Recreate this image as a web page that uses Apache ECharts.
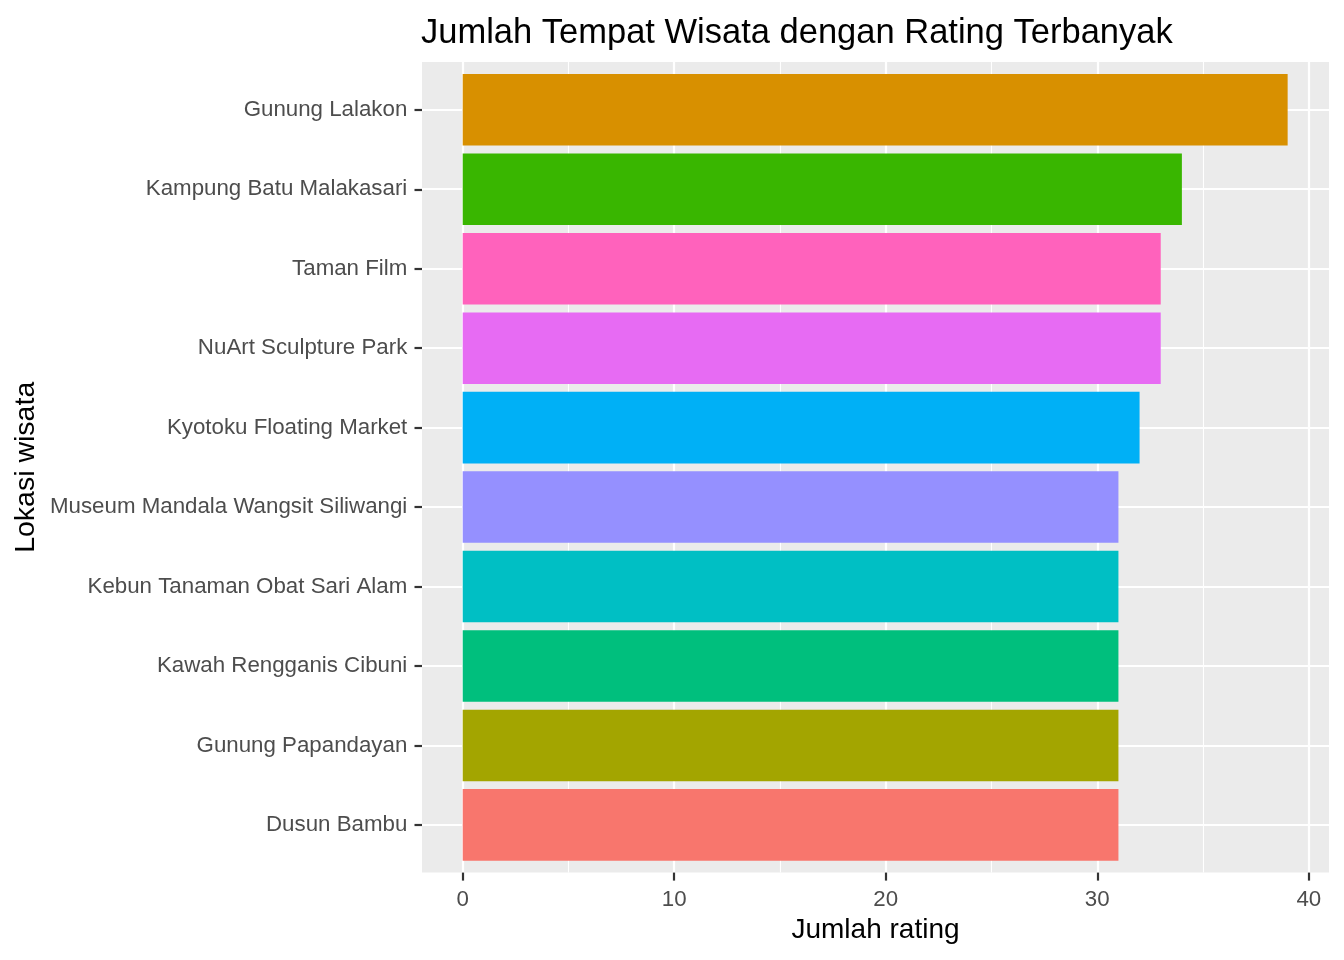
<!DOCTYPE html>
<html>
<head>
<meta charset="utf-8">
<title>Jumlah Tempat Wisata dengan Rating Terbanyak</title>
<script src="https://cdn.jsdelivr.net/npm/echarts@6/dist/echarts.min.js"></script>
<style>
    html, body { margin: 0; padding: 0; background: #ffffff; }
    #chart { width: 1344px; height: 960px; }
</style>
</head>
<body>
<div id="chart"></div>
<script>
// data (bottom to top, same order as the y axis)
const lokasi = [
    'Dusun Bambu',
    'Gunung Papandayan',
    'Kawah Rengganis Cibuni',
    'Kebun Tanaman Obat Sari Alam',
    'Museum Mandala Wangsit Siliwangi',
    'Kyotoku Floating Market',
    'NuArt Sculpture Park',
    'Taman Film',
    'Kampung Batu Malakasari',
    'Gunung Lalakon'
];
const jumlahRating = [31, 31, 31, 31, 31, 32, 33, 33, 34, 39];
const warna = ['#F8766D', '#A3A500', '#00BF7D', '#00BFC4', '#9590FF',
               '#00B0F6', '#E76BF3', '#FF62BC', '#39B600', '#D89000'];
const xMax = 40;
const xStep = 10;

const font = 'Liberation Sans, Arial, sans-serif';

document.addEventListener('DOMContentLoaded', function() {
    const chart = echarts.init(document.getElementById('chart'), null, { renderer: 'canvas' });

    const hidden = { show: false };

    const option = {
        animation: false,
        backgroundColor: '#ffffff',
        title: {
            text: 'Jumlah Tempat Wisata dengan Rating Terbanyak',
            left: 416,
            top: 11,
            textStyle: { fontFamily: font, fontSize: 34.5, fontWeight: 'normal', color: '#000000' }
        },
        grid: [
            // panel background
            { left: 422, right: 15, top: 62, bottom: 87.4, show: true, backgroundColor: '#EBEBEB', borderWidth: 0, outerBoundsMode: 'none' },
            // vertical grid lines + x ticks
            { left: 462.7, right: 35.2, top: 62, bottom: 87.4, outerBoundsMode: 'none' },
            // horizontal grid lines at category centres
            { left: 422, right: 15, top: 30.3, bottom: 55.6, outerBoundsMode: 'none' },
            // bars
            { left: 462.7, right: 35.2, top: 70.1, bottom: 95.4, outerBoundsMode: 'none' },
            // category labels + ticks on the panel edge
            { left: 422, right: 15, top: 70.1, bottom: 95.4, outerBoundsMode: 'none' }
        ],
        xAxis: [
            {
                gridIndex: 0, type: 'value', min: 0, max: 1,
                axisLine: hidden, axisTick: hidden, axisLabel: hidden, splitLine: hidden,
                name: 'Jumlah rating', nameLocation: 'middle', nameGap: 44,
                nameTextStyle: { fontFamily: font, fontSize: 28, color: '#000000' }
            },
            {
                gridIndex: 1, type: 'value', min: 0, max: xMax, interval: xStep,
                axisLine: hidden,
                axisTick: { show: true, length: 8, lineStyle: { color: '#333333', width: 2.2 } },
                axisLabel: { color: '#4D4D4D', fontFamily: font, fontSize: 22.3, margin: 16 },
                splitLine: { show: true, lineStyle: { color: '#ffffff', width: 2.2 } },
                minorTick: { show: false, splitNumber: 2 },
                minorSplitLine: { show: true, lineStyle: { color: '#ffffff', width: 1.1 } }
            },
            { gridIndex: 2, type: 'value', min: 0, max: 1, show: false },
            { gridIndex: 3, type: 'value', min: 0, max: xMax, show: false },
            { gridIndex: 4, type: 'value', min: 0, max: 1, show: false }
        ],
        yAxis: [
            {
                gridIndex: 0, type: 'value', min: 0, max: 1,
                axisLine: hidden, axisTick: hidden, axisLabel: hidden, splitLine: hidden,
                name: 'Lokasi wisata', nameLocation: 'middle', nameRotate: 90, nameGap: 381,
                nameTextStyle: { fontFamily: font, fontSize: 28.5, color: '#000000' }
            },
            { gridIndex: 1, type: 'value', min: 0, max: 1, show: false },
            {
                gridIndex: 2, type: 'value', min: 0, max: lokasi.length + 1, interval: 1,
                axisLine: hidden, axisTick: hidden, axisLabel: hidden,
                splitLine: { show: true, showMinLine: false, showMaxLine: false, lineStyle: { color: '#ffffff', width: 2.2 } }
            },
            { gridIndex: 3, type: 'category', data: lokasi, show: false },
            {
                gridIndex: 4, type: 'category', data: lokasi,
                axisLine: hidden,
                axisTick: { show: true, alignWithLabel: true, length: 7.5, lineStyle: { color: '#333333', width: 2.2 } },
                axisLabel: { color: '#4D4D4D', fontFamily: font, fontSize: 22.3, margin: 14.7, padding: [5, 0, 0, 0] },
                splitLine: hidden
            }
        ],
        series: [{
            name: 'Jumlah rating',
            type: 'bar',
            xAxisIndex: 3,
            yAxisIndex: 3,
            barCategoryGap: '10%',
            silent: true,
            data: jumlahRating.map((v, i) => ({ value: v, itemStyle: { color: warna[i] } }))
        }]
    };

    chart.setOption(option);
});
</script>
</body>
</html>
